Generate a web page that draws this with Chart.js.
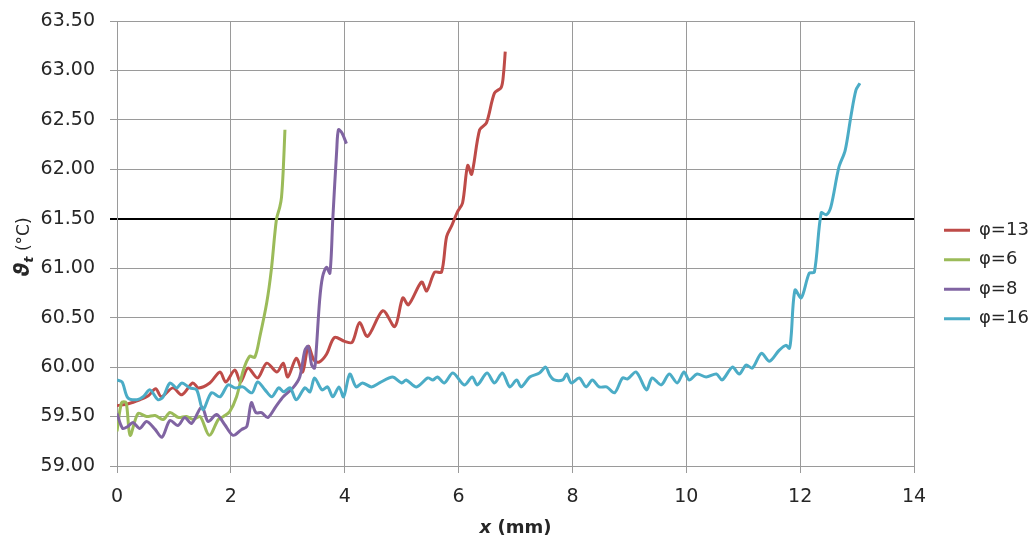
<!DOCTYPE html>
<html><head><meta charset="utf-8">
<script src="https://cdn.jsdelivr.net/npm/chart.js@4.4.1/dist/chart.umd.min.js"></script>
<style>html,body{margin:0;padding:0;background:#fff;}canvas{display:block;}</style>
</head><body>
<canvas id="c" width="1030" height="546"></canvas>
<script>
// ---- data ----
const seriesNames = ['φ=13', 'φ=6', 'φ=8', 'φ=16'];
const seriesColors = ['#BE4B48', '#9BBB59', '#8064A2', '#4BACC6'];
const xTickLabels = ['0', '2', '4', '6', '8', '10', '12', '14'];
const yTickLabels = ['59.00', '59.50', '60.00', '60.50', '61.00', '61.50', '62.00', '62.50', '63.00', '63.50'];
const refLineValue = 61.5;

const phi13X = [0,0.20,0.40,0.55,0.68,0.78,0.98,1.14,1.33,1.43,1.63,1.81,1.91,2.07,2.17,2.30,2.47,2.63,2.81,2.92,3.00,3.15,3.26,3.36,3.46,3.55,3.68,3.82,4.00,4.13,4.26,4.40,4.67,4.88,5.02,5.12,5.35,5.44,5.58,5.70,5.79,5.88,5.98,6.07,6.16,6.23,6.37,6.49,6.63,6.75,6.79,6.82];
const phi13Y = [59.61,59.63,59.67,59.71,59.78,59.70,59.79,59.72,59.84,59.79,59.84,59.95,59.85,59.97,59.85,59.99,59.89,60.04,59.95,60.04,59.90,60.09,59.95,60.21,60.07,60.05,60.13,60.30,60.26,60.25,60.45,60.31,60.57,60.41,60.70,60.63,60.86,60.77,60.96,60.96,61.32,61.43,61.57,61.66,62.04,61.95,62.40,62.47,62.77,62.83,62.97,63.19];

const phi6X = [0,0.08,0.16,0.23,0.37,0.52,0.67,0.81,0.93,1.08,1.22,1.34,1.46,1.62,1.78,1.87,1.98,2.10,2.22,2.33,2.42,2.51,2.63,2.71,2.80,2.86,2.89,2.92,2.95];
const phi6Y = [59.35,59.64,59.64,59.31,59.53,59.50,59.51,59.47,59.54,59.49,59.50,59.47,59.50,59.31,59.47,59.50,59.55,59.70,59.97,60.11,60.10,60.31,60.65,60.98,61.49,61.62,61.72,61.99,62.40];

const phi8X = [0,0.10,0.19,0.28,0.40,0.52,0.67,0.79,0.93,1.07,1.19,1.31,1.49,1.60,1.75,1.89,2.04,2.19,2.28,2.36,2.44,2.54,2.65,2.79,2.92,3.09,3.21,3.30,3.36,3.42,3.47,3.50,3.56,3.61,3.68,3.74,3.79,3.86,3.89,3.95,4.03];
const phi8Y = [59.53,59.38,59.40,59.44,59.38,59.45,59.37,59.29,59.46,59.41,59.49,59.43,59.60,59.45,59.52,59.42,59.31,59.37,59.40,59.64,59.54,59.54,59.49,59.60,59.70,59.79,59.90,60.17,60.21,60.02,59.99,60.17,60.68,60.91,61.01,60.95,61.49,62.20,62.40,62.37,62.26];

const phi16X = [0,0.09,0.19,0.35,0.46,0.58,0.72,0.81,0.93,1.05,1.14,1.28,1.40,1.51,1.66,1.81,1.95,2.07,2.21,2.37,2.47,2.60,2.72,2.84,2.93,3.04,3.15,3.30,3.39,3.47,3.60,3.70,3.79,3.90,3.98,4.09,4.20,4.31,4.47,4.61,4.84,5.00,5.08,5.26,5.46,5.55,5.63,5.75,5.90,6.10,6.24,6.33,6.50,6.63,6.77,6.90,7.02,7.10,7.25,7.42,7.53,7.60,7.68,7.83,7.90,7.98,8.12,8.24,8.35,8.47,8.60,8.74,8.88,8.97,9.12,9.30,9.40,9.56,9.70,9.84,9.96,10.05,10.19,10.35,10.53,10.63,10.81,10.93,11.05,11.16,11.32,11.46,11.63,11.75,11.81,11.84,11.91,12.02,12.16,12.25,12.37,12.46,12.54,12.68,12.79,12.89,12.98,13.05];
const phi16Y = [59.87,59.85,59.69,59.67,59.70,59.77,59.67,59.70,59.84,59.79,59.84,59.79,59.77,59.57,59.74,59.70,59.82,59.79,59.80,59.74,59.85,59.77,59.70,59.79,59.75,59.79,59.67,59.79,59.75,59.89,59.77,59.80,59.70,59.80,59.70,59.93,59.80,59.84,59.80,59.84,59.90,59.84,59.87,59.80,59.89,59.87,59.90,59.84,59.94,59.82,59.90,59.82,59.94,59.84,59.94,59.80,59.87,59.80,59.90,59.94,60.00,59.92,59.87,59.87,59.93,59.84,59.89,59.80,59.87,59.80,59.80,59.74,59.89,59.88,59.95,59.77,59.89,59.82,59.93,59.84,59.95,59.87,59.93,59.90,59.93,59.87,60.00,59.93,60.02,59.99,60.14,60.06,60.17,60.22,60.19,60.30,60.78,60.70,60.95,60.96,61.56,61.54,61.62,62.02,62.19,62.53,62.80,62.87];

// ---- build chart ----
const seriesX = [phi13X, phi6X, phi8X, phi16X];
const seriesY = [phi13Y, phi6Y, phi8Y, phi16Y];
const FONT = 'DejaVu Sans';
const TEXT = '#262626';
const GRID = '#9a9a9a';

const datasets = seriesNames.map((name, i) => ({
  label: name,
  data: seriesX[i].map((x, j) => ({x: x, y: seriesY[i][j]})),
  borderColor: seriesColors[i],
  backgroundColor: seriesColors[i],
  borderWidth: 3,
  pointRadius: 0,
  tension: 0.3,
  fill: false,
  order: seriesNames.length - i
}));

const LEGEND_W = 116, LEGEND_ITEM_X = 944, LEGEND_DY = -9;
const legendFix = {
  id: 'legendFix',
  beforeLayout(chart) {
    const lg = chart.legend;
    if (lg && !lg.__patched) {
      const fit = lg.fit;
      lg.fit = function () { fit.call(this); this.width = LEGEND_W; };
      lg.__patched = true;
    }
  },
  afterLayout(chart) {
    const lg = chart.legend;
    if (!lg) return;
    const pad = lg.options.labels.padding;
    const dx = (LEGEND_ITEM_X - pad) - lg.left;
    lg.left += dx; lg.right += dx;
    lg.top += LEGEND_DY; lg.bottom += LEGEND_DY;
  }
};

function drawParts(ctx, parts, cx, baseY) {
  let total = 0;
  parts.forEach(p => { ctx.font = p.f; p.w = ctx.measureText(p.t).width; total += p.w; });
  let x = cx - total / 2;
  parts.forEach(p => { ctx.font = p.f; ctx.fillText(p.t, x, baseY + (p.dy || 0)); x += p.w; });
}

const axisTitles = {
  id: 'axisTitles',
  afterDraw(chart) {
    const {ctx, chartArea} = chart;
    ctx.save();
    ctx.fillStyle = TEXT;
    ctx.textBaseline = 'alphabetic';
    ctx.textAlign = 'left';
    drawParts(ctx, [
      {t: 'x', f: `italic bold 18px "${FONT}"`},
      {t: ' (mm)', f: `bold 18px "${FONT}"`}
    ], (chartArea.left + chartArea.right) / 2, 533);
    ctx.translate(23, 247);
    ctx.rotate(-Math.PI / 2);
    drawParts(ctx, [
      {t: 'ϑ', f: `italic bold 21px "${FONT}"`},
      {t: 't', f: `italic bold 13px "${FONT}"`, dy: 4},
      {t: ' (°C)', f: `17px "${FONT}"`}
    ], 0, 6);
    ctx.restore();
  }
};

const whiteBg = {
  id: 'whiteBg',
  beforeDraw(chart) {
    const {ctx, width, height} = chart;
    ctx.save(); ctx.fillStyle = '#fff'; ctx.fillRect(0, 0, width, height); ctx.restore();
  }
};

Chart.defaults.font.family = FONT;
Chart.defaults.font.size = 19;
Chart.defaults.color = TEXT;

new Chart(document.getElementById('c'), {
  type: 'line',
  data: {datasets},
  options: {
    responsive: false,
    animation: false,
    devicePixelRatio: 1,
    layout: {padding: {top: 21, left: 0, right: 0, bottom: 0}},
    plugins: {
      tooltip: {enabled: false},
      legend: {
        display: true,
        position: 'right',
        labels: {
          font: {size: 18, family: FONT},
          color: TEXT,
          usePointStyle: true,
          pointStyle: 'line',
          pointStyleWidth: 26,
          padding: 11.5,
          sort: (a, b) => a.datasetIndex - b.datasetIndex
        }
      }
    },
    scales: {
      x: {
        type: 'linear',
        min: 0, max: 14,
        afterFit(s) { s.height = 80; },
        ticks: {stepSize: 2, padding: 13, maxRotation: 0,
          callback: (v, i) => xTickLabels[i] !== undefined ? xTickLabels[i] : ''},
        grid: {color: GRID, lineWidth: 1, tickLength: 7, drawTicks: true},
        border: {color: GRID, width: 1}
      },
      y: {
        type: 'linear',
        min: 59, max: 63.5,
        afterFit(s) { s.width = 117; s.paddingTop = 0; s.paddingBottom = 0; },
        ticks: {stepSize: 0.5, padding: 15,
          callback: (v, i) => yTickLabels[i] !== undefined ? yTickLabels[i] : ''},
        grid: {
          tickLength: 7,
          drawTicks: true,
          color: c => (c.tick && Math.abs(c.tick.value - refLineValue) < 1e-6) ? '#000000' : GRID,
          lineWidth: c => (c.tick && Math.abs(c.tick.value - refLineValue) < 1e-6) ? 2 : 1
        },
        border: {color: GRID, width: 1}
      }
    }
  },
  plugins: [whiteBg, legendFix, axisTitles]
});
</script>
</body></html>
